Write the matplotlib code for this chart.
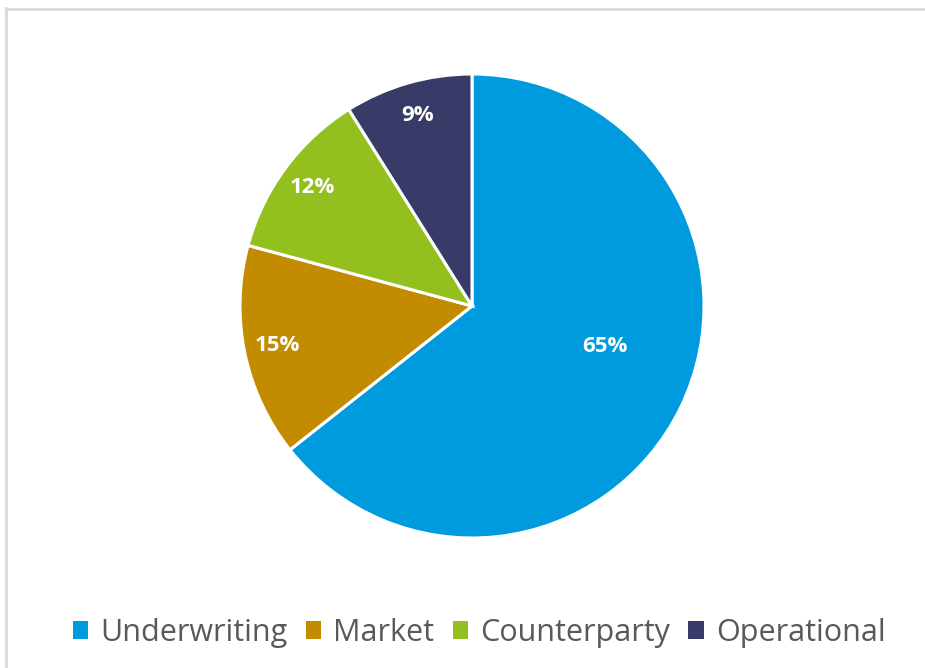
import matplotlib
matplotlib.use("Agg")
import matplotlib.pyplot as plt
from matplotlib.patches import Patch
from matplotlib.lines import Line2D
import numpy as np

categories = ["Underwriting", "Market", "Counterparty", "Operational"]
values = [65, 15, 12, 9]
labels = ["65%", "15%", "12%", "9%"]
colors = ["#009BDE", "#C38B00", "#93C01F", "#383B68"]

plt.rcParams['font.family'] = ['Open Sans', 'DejaVu Sans']

W, H = 925, 668
fig = plt.figure(figsize=(W / 100, H / 100), dpi=100)
fig.patch.set_facecolor("white")

# frame lines (top and left only visible)
fig.add_artist(Line2D([6 / W, 6 / W], [0, 1 - 8 / H], transform=fig.transFigure, color="#D9D9D9", lw=2))
fig.add_artist(Line2D([6 / W, 1], [1 - 9 / H, 1 - 9 / H], transform=fig.transFigure, color="#D9D9D9", lw=2))

cx, cy, r = 472, 306, 232
ax = fig.add_axes([(cx - r) / W, (H - cy - r) / H, 2 * r / W, 2 * r / H])
wedges, _ = ax.pie(values, colors=colors, startangle=90, counterclock=False,
                   radius=1, wedgeprops=dict(edgecolor="white", linewidth=2.2))
ax.set_xlim(-1, 1)
ax.set_ylim(-1, 1)
ax.set_aspect("equal")
ax.axis("off")

for w, lab in zip(wedges, labels):
    mid = np.deg2rad((w.theta1 + w.theta2) / 2)
    span = w.theta2 - w.theta1
    if span > 180:
        mid = np.deg2rad((w.theta1 + w.theta2) / 2 + 9)
        d = 0.6
    else:
        d = 0.855
    ax.text(d * np.cos(mid), d * np.sin(mid), lab, ha="center", va="center",
            color="white", fontsize=16, fontweight="bold")

handles = [Patch(facecolor=c, edgecolor="none") for c in colors]
fig.legend(handles, categories, loc="center", bbox_to_anchor=(479 / W, 1 - 633 / H),
           ncol=4, frameon=False, fontsize=22, handlelength=0.5, handleheight=0.5,
           handletextpad=0.4, columnspacing=0.6, labelcolor="#595959")

fig.savefig("out.png", dpi=100, facecolor="white")
